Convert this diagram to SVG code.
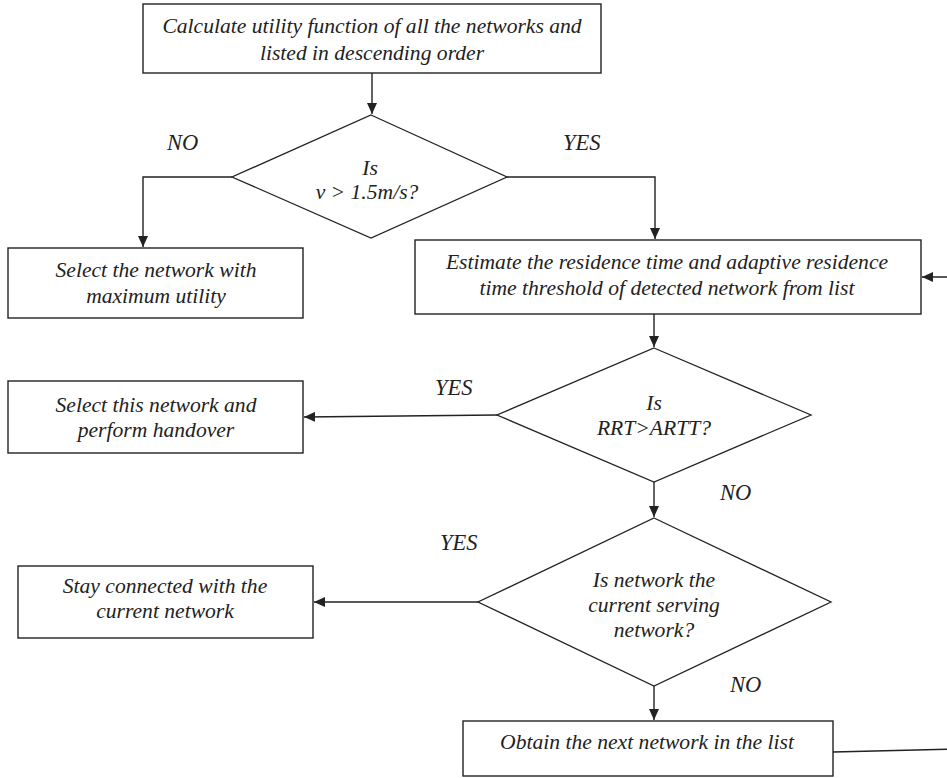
<svg xmlns="http://www.w3.org/2000/svg" width="947" height="778" viewBox="0 0 947 778">
<style>
.box{fill:#fff;stroke:#222;stroke-width:1.4}
.dia{fill:#fff;stroke:#222;stroke-width:1.3}
text{font-family:'Liberation Serif','Times New Roman',serif;font-style:italic;font-size:21.6px;fill:#222}
.t{text-anchor:middle}
.lbl{font-size:22.5px}
.c{fill:none;stroke:#222;stroke-width:1.4}
</style>
<defs>
<marker id="ah" markerUnits="userSpaceOnUse" markerWidth="12" markerHeight="10" refX="11" refY="5" orient="auto">
<path d="M0,0 L11,5 L0,10 Z" fill="#222"/>
</marker>
</defs>
<rect width="947" height="778" fill="#fff"/>
<g id="connectors">
<path class="c" d="M372,73 V114" marker-end="url(#ah)"/>
<path class="c" d="M232,177 H143 V247" marker-end="url(#ah)"/>
<path class="c" d="M507,177 H655 V239" marker-end="url(#ah)"/>
<path class="c" d="M654,314 V347" marker-end="url(#ah)"/>
<path class="c" d="M497,415 L304,417" marker-end="url(#ah)"/>
<path class="c" d="M654,482 V517" marker-end="url(#ah)"/>
<path class="c" d="M478,602 H314" marker-end="url(#ah)"/>
<path class="c" d="M654,686 V720" marker-end="url(#ah)"/>
<path class="c" d="M833,752 L960,749 V277 H922" marker-end="url(#ah)"/>
</g>
<g id="n_calc">
<rect class="box" x="143" y="4" width="458" height="69"/>
<text class="t" x="372" y="33">Calculate utility function of all the networks and</text>
<text class="t" x="372" y="60">listed in descending order</text>
</g>
<g id="d_speed">
<polygon class="dia" points="371,115 507,177 371,238 232,177"/>
<text class="t" x="370" y="175">Is</text>
<text class="t" x="367" y="199">v &gt; 1.5m/s?</text>
</g>
<g id="n_maxutil">
<rect class="box" x="8" y="248" width="295" height="70"/>
<text class="t" x="156" y="277">Select the network with</text>
<text class="t" x="156" y="303">maximum utility</text>
</g>
<g id="n_estimate">
<rect class="box" x="415" y="240" width="506" height="74"/>
<text class="t" x="667" y="269">Estimate the residence time and adaptive residence</text>
<text class="t" x="667" y="295">time threshold of detected network from list</text>
</g>
<g id="d_rrt">
<polygon class="dia" points="654,348 811,415 654,482 497,415"/>
<text class="t" x="654" y="410">Is</text>
<text class="t" x="654" y="435">RRT&gt;ARTT?</text>
</g>
<g id="n_handover">
<rect class="box" x="8" y="381" width="295" height="72"/>
<text class="t" x="156" y="412">Select this network and</text>
<text class="t" x="156" y="437">perform handover</text>
</g>
<g id="d_serving">
<polygon class="dia" points="654,518 831,602 654,686 478,602"/>
<text class="t" x="654" y="587">Is network the</text>
<text class="t" x="654" y="612">current serving</text>
<text class="t" x="654" y="637">network?</text>
</g>
<g id="n_stay">
<rect class="box" x="18" y="566" width="295" height="72"/>
<text class="t" x="165" y="593">Stay connected with the</text>
<text class="t" x="165" y="618">current network</text>
</g>
<g id="n_next">
<rect class="box" x="463" y="721" width="370" height="55"/>
<text class="t" x="647" y="749">Obtain the next network in the list</text>
</g>
<g id="labels">
<text class="lbl" x="167" y="150">NO</text>
<text class="lbl" x="563" y="150">YES</text>
<text class="lbl" x="435" y="395">YES</text>
<text class="lbl" x="720" y="500">NO</text>
<text class="lbl" x="440" y="550">YES</text>
<text class="lbl" x="730" y="692">NO</text>
</g>
</svg>
